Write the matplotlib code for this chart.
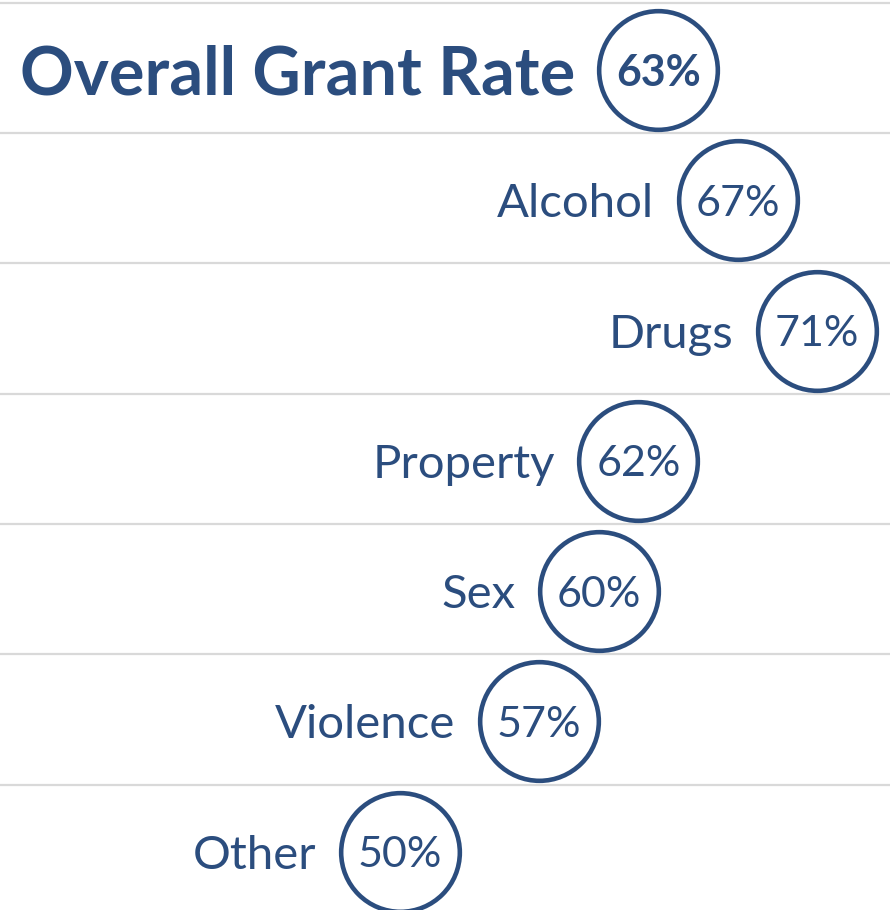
import numpy as np
import matplotlib
matplotlib.use("Agg")
import matplotlib.pyplot as plt

# grant rate by offence type
categories = ["Overall Grant Rate", "Alcohol", "Drugs", "Property", "Sex", "Violence", "Other"]
rates = [63, 67, 71, 62, 60, 57, 50]

navy = "#2B4D7E"
plt.rcParams["font.family"] = ["Lato", "DejaVu Sans"]

fig = plt.figure(figsize=(8.9, 9.1), dpi=100)
ax = fig.add_axes([0, 0, 1, 1])

rows = np.arange(len(categories))

# row separators
for r in rows:
    ax.axhline(r - 0.515, color="#D9D9D9", linewidth=1.6, zorder=0)

# circles sized in points so they stay round
ax.scatter(rates, rows, s=7300, facecolor="white", edgecolor=navy,
           linewidth=3.3, zorder=2)

for i, (cat, val) in enumerate(zip(categories, rates)):
    bold = i == 0
    ax.text(val, i, f"{val}%", ha="center", va="center_baseline",
            fontsize=31, color=navy,
            fontweight="bold" if bold else "normal", zorder=3)
    ax.annotate(cat, xy=(val, i), xytext=(-60, 0), textcoords="offset points",
                ha="right", va="center_baseline", color=navy,
                fontsize=48 if bold else 34,
                fontweight="bold" if bold else "normal")

ax.set_xlim(29.86, 74.67)
ax.set_ylim(6.447, -0.537)
ax.axis("off")

fig.savefig("out.png", dpi=100, facecolor="white")
